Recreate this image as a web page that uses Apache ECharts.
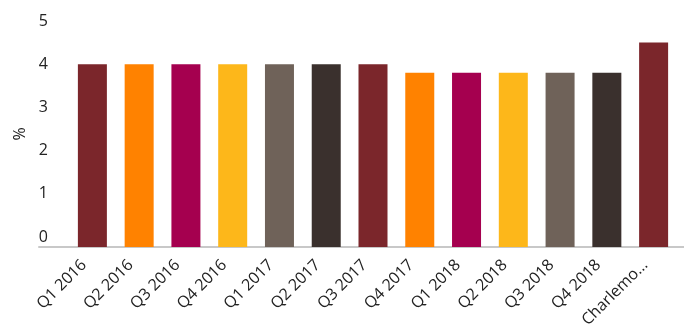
<!DOCTYPE html>
<html>
<head>
<meta charset="utf-8">
<script src="https://cdn.jsdelivr.net/npm/echarts@6/dist/echarts.min.js"></script>
<style>
  html, body { margin: 0; padding: 0; background: #fff; }
  #chart { width: 684px; height: 325px; }
</style>
</head>
<body>
<div id="chart"></div>
<script>
const categories = ['Q1 2016', 'Q2 2016', 'Q3 2016', 'Q4 2016', 'Q1 2017', 'Q2 2017', 'Q3 2017',
  'Q4 2017', 'Q1 2018', 'Q2 2018', 'Q3 2018', 'Q4 2018', 'Charlemont average']
const values = [4, 4, 4, 4, 4, 4, 4, 3.8, 3.8, 3.8, 3.8, 3.8, 4.5]
const palette = ['#7b262b', '#ff8200', '#a5004f', '#fdb71a', '#6f6259', '#3a302d']
const yTicks = [0, 1, 2, 3, 4, 5]

const font = '"Open Sans", Lato, sans-serif'
const chart = echarts.init(document.getElementById('chart'), null, { renderer: 'canvas' })

const option = {
  animation: false,
  grid: [
    { left: 69, right: 7, top: 21, bottom: 78, outerBoundsMode: 'none', containLabel: false },
    // wider grid only for the baseline
    { left: 39, right: 0, top: 21, bottom: 78, outerBoundsMode: 'none', containLabel: false }
  ],
  xAxis: [{
    type: 'category',
    data: categories,
    gridIndex: 0,
    axisLine: { show: false },
    axisTick: { show: false },
    axisLabel: {
      rotate: 45,
      interval: 0,
      margin: 7,
      padding: [0, 12, 0, 0],
      fontFamily: font,
      fontSize: 16,
      color: '#222',
      width: 90,
      overflow: 'truncate',
      ellipsis: '...'
    }
  }, {
    type: 'category',
    data: [''],
    gridIndex: 1,
    axisLine: { show: true, lineStyle: { color: '#c8c8c8', width: 2 } },
    axisTick: { show: false },
    axisLabel: { show: false }
  }],
  yAxis: [{
    type: 'value',
    gridIndex: 0,
    min: -0.2315,
    max: 5,
    startValue: -0.2315,
    name: '%',
    nameLocation: 'middle',
    nameGap: 41,
    nameTextStyle: { fontFamily: font, fontSize: 16, color: '#222' },
    splitLine: { show: false },
    axisLine: { show: false },
    axisTick: { show: false },
    axisLabel: {
      margin: 21,
      fontFamily: font,
      fontSize: 16,
      color: '#222',
      formatter: v => (yTicks.includes(v) ? String(v) : '')
    }
  }, {
    type: 'value',
    gridIndex: 1,
    show: false
  }],
  series: [{
    type: 'bar',
    xAxisIndex: 0,
    yAxisIndex: 0,
    barWidth: 29,
    data: values.map((v, i) => ({ value: v, itemStyle: { color: palette[i % palette.length] } }))
  }]
}

chart.setOption(option)
</script>
</body>
</html>
